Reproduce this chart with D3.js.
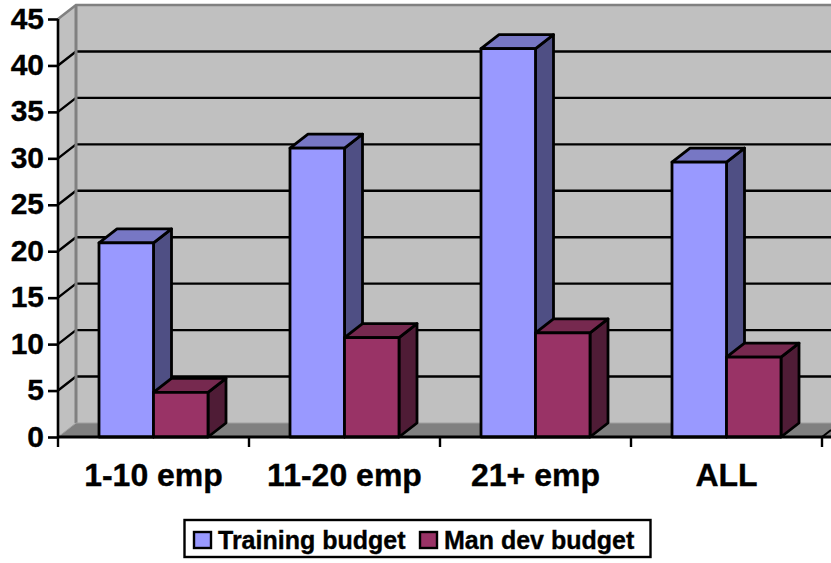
<!DOCTYPE html>
<html>
<head>
<meta charset="utf-8">
<script src="https://cdnjs.cloudflare.com/ajax/libs/d3/7.8.5/d3.min.js"></script>
<style>
html,body{margin:0;padding:0;background:#fff;overflow:hidden}
svg{display:block}
text{font-family:"Liberation Sans",Arial,sans-serif;font-weight:bold;fill:#000;stroke:#000;stroke-width:.35px}
</style>
</head>
<body>
<svg id="chart" width="831" height="563"></svg>
<script>
const categories = ["1-10 emp", "11-20 emp", "21+ emp", "ALL"];
const trainingBudget = [20.9, 31.1, 41.8, 29.6];
const manDevBudget = [4.8, 10.7, 11.2, 8.6];
const seriesNames = ["Training budget", "Man dev budget"];
const yTicks = [0, 5, 10, 15, 20, 25, 30, 35, 40, 45];

const palette = [
  {front: "#9999ff", top: "#7777c4", side: "#4f4f84"},
  {front: "#993366", top: "#76294f", side: "#4f1c36"}
];

const svg = d3.select("#chart");
const depthX = 18, depthY = -14;
const y = d3.scaleLinear().domain([0, 45]).range([437, 19]);
const x = d3.scaleBand().domain(categories).range([58, 822]);
const inner = d3.scaleBand().domain(seriesNames).range([41, 191 - 41]);

const pts = a => a.map(p => p.join(",")).join(" ");
const wallRight = 840;

// Back wall, side wall and floor of the 3D box
svg.append("polygon").attr("points", pts([[x.range()[0] + depthX, y(45) + depthY], [wallRight, y(45) + depthY], [wallRight, y(0) + depthY], [x.range()[0] + depthX, y(0) + depthY]])).attr("fill", "#c0c0c0");
svg.append("polygon").attr("points", pts([[58, y(45)], [58 + depthX, y(45) + depthY], [58 + depthX, y(0) + depthY], [58, y(0)]])).attr("fill", "#c0c0c0");
svg.append("polygon").attr("points", pts([[58, y(0)], [58 + depthX, y(0) + depthY], [wallRight, y(0) + depthY], [wallRight, y(0)]])).attr("fill", "#808080");

// Gridlines wrap from the front axis across the side wall and along the back
yTicks.filter(t => t > 0 && t < 45).forEach(t => {
  svg.append("polyline")
    .attr("points", pts([[58, y(t)], [58 + depthX, y(t) + depthY], [wallRight, y(t) + depthY]]))
    .attr("fill", "none").attr("stroke", "#000").attr("stroke-width", 2.4);
});

// Grey wall edges
svg.append("polyline")
  .attr("points", pts([[58, y(45)], [58 + depthX, y(45) + depthY], [wallRight, y(45) + depthY]]))
  .attr("fill", "none").attr("stroke", "#808080").attr("stroke-width", 2.6);
svg.append("line").attr("x1", 58 + depthX).attr("x2", 58 + depthX).attr("y1", y(45) + depthY).attr("y2", y(0) + depthY)
  .attr("stroke", "#808080").attr("stroke-width", 3);
svg.append("polyline")
  .attr("points", pts([[58, y(0)], [58 + depthX, y(0) + depthY], [wallRight, y(0) + depthY]]))
  .attr("fill", "none").attr("stroke", "#a0a0a0").attr("stroke-width", 1);

// Cuboid bars, drawn back-to-front within each category
function drawBar(x0, w, value, colors) {
  const x1 = x0 + w, yt = y(value), yb = y(0);
  const g = svg.append("g").attr("stroke", "#000").attr("stroke-width", 2.8).attr("stroke-linejoin", "round");
  g.append("polygon").attr("fill", colors.side)
    .attr("points", pts([[x1, yt], [x1 + depthX, yt + depthY], [x1 + depthX, yb + depthY], [x1, yb]]));
  g.append("polygon").attr("fill", colors.top)
    .attr("points", pts([[x0, yt], [x0 + depthX, yt + depthY], [x1 + depthX, yt + depthY], [x1, yt]]));
  g.append("rect").attr("fill", colors.front)
    .attr("x", x0).attr("y", yt).attr("width", w).attr("height", yb - yt);
}
categories.forEach((c, i) => {
  [trainingBudget[i], manDevBudget[i]].forEach((v, s) => {
    drawBar(x(c) + inner(seriesNames[s]), inner.bandwidth(), v, palette[s]);
  });
});

// Value axis
const yAxis = d3.axisLeft(y).tickValues(yTicks).tickSize(10).tickPadding(4);
const yG = svg.append("g").attr("transform", "translate(58,0)").call(yAxis);
yG.select(".domain").attr("stroke", "#000").attr("stroke-width", 2.6).attr("d", `M0,${y(45)}V${y(0) + 1}`);
yG.selectAll(".tick line").attr("stroke", "#000").attr("stroke-width", 2.6);
yG.selectAll("text").attr("dy", "0.3em").style("font-size", "30px").style("font-family", null).style("font-weight", "bold").attr("fill", "#000");
yG.attr("font-family", null).attr("font-size", null);

// Category axis with ticks on band boundaries; the last tick continues onto the floor
svg.append("line").attr("x1", 57).attr("x2", 831).attr("y1", y(0)).attr("y2", y(0)).attr("stroke", "#000").attr("stroke-width", 3);
d3.range(categories.length + 1).forEach(i => {
  const tx = 58 + i * x.bandwidth();
  svg.append("line").attr("x1", tx).attr("x2", tx).attr("y1", y(0)).attr("y2", y(0) + 10).attr("stroke", "#000").attr("stroke-width", 2.4);
});
svg.append("line").attr("x1", 822).attr("x2", 831).attr("y1", y(0)).attr("y2", y(0) - 7).attr("stroke", "#000").attr("stroke-width", 2);
svg.append("g").selectAll("text").data(categories).join("text")
  .attr("x", d => x(d) + x.bandwidth() / 2).attr("y", 486)
  .attr("text-anchor", "middle").style("font-size", "32px").text(d => d);

// Legend
const legend = svg.append("g");
legend.append("rect").attr("x", 184.5).attr("y", 520).attr("width", 466).attr("height", 37)
  .attr("fill", "#fff").attr("stroke", "#000").attr("stroke-width", 2.4);
const legendX = [194, 420];
seriesNames.forEach((n, s) => {
  legend.append("rect").attr("x", legendX[s]).attr("y", 532).attr("width", 17).attr("height", 16)
    .attr("fill", palette[s].front).attr("stroke", "#000").attr("stroke-width", 2.4);
  legend.append("text").attr("x", legendX[s] + 24).attr("y", 549).style("font-size", "25px").text(n);
});
</script>
</body>
</html>
